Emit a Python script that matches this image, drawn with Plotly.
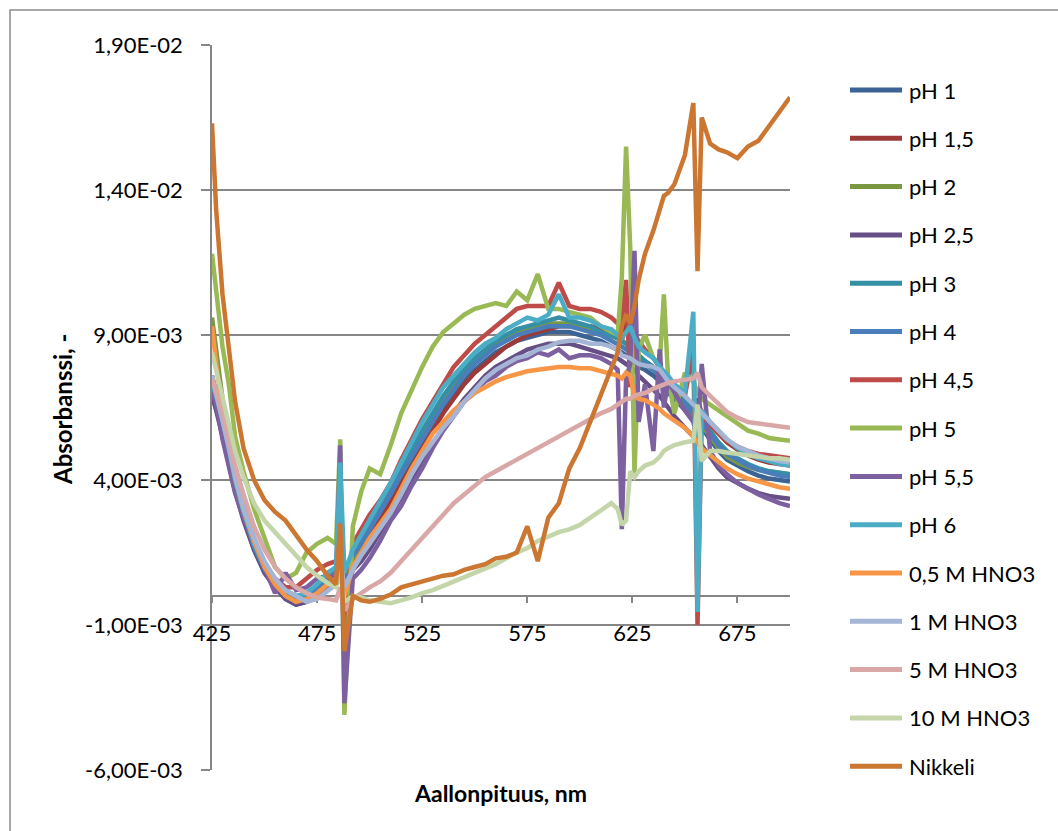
import plotly.graph_objects as go

# Wavelength grid (nm)
wavelength = [425, 427, 430, 433, 436, 440, 445, 450, 455, 460,
              465, 470, 475, 480, 484, 486, 488, 492, 496, 500,
              505, 510, 515, 520, 525, 530, 535, 540, 545, 550,
              555, 560, 565, 570, 575, 580, 585, 590, 595, 600,
              605, 610, 615, 618, 620, 622, 624, 626, 628, 631,
              635, 638, 640, 642, 645, 650, 654, 656, 658, 662,
              666, 670, 675, 680, 685, 690, 695, 700]

# Absorbance values in units of 1E-03
ph_1 = [7.2, 6.7, 5.9, 4.9, 3.8, 2.7, 1.6, 0.8, 0.3, -0.1,
        -0.3, -0.2, 0.1, 0.5, 0.8, 1.8, 0.2, 1.2, 1.6, 2.1,
        2.7, 3.3, 4.0, 4.6, 5.2, 5.8, 6.4, 6.9, 7.4, 7.8,
        8.1, 8.4, 8.6, 8.8, 8.9, 9.0, 9.1, 9.1, 9.1, 9.0,
        8.9, 8.8, 8.6, 8.5, 8.4, 8.3, 8.2, 8.1, 7.9, 7.8,
        7.6, 7.4, 7.2, 7.0, 6.8, 6.4, 6.1, 6.1, 5.8, 5.4,
        5.0, 4.7, 4.5, 4.3, 4.15, 4.05, 4.0, 3.95]
ph_1_5 = [7.6, 7.0, 6.2, 5.2, 4.1, 3.0, 1.9, 1.0, 0.4, 0.0,
          -0.2, -0.1, 0.2, 0.5, 0.7, 1.6, -0.2, 1.0, 1.5, 2.0,
          2.6, 3.2, 3.9, 4.5, 5.1, 5.7, 6.3, 6.8, 7.3, 7.7,
          8.0, 8.3, 8.6, 8.8, 9.0, 9.1, 9.2, 9.3, 9.3, 9.3,
          9.3, 9.2, 9.0, 8.9, 8.8, 9.6, 8.5, 8.5, 8.3, 8.1,
          7.9, 7.7, 7.5, 7.3, 7.1, 6.8, 6.6, 6.8, 6.3, 5.9,
          5.6, 5.3, 5.05, 4.85, 4.7, 4.6, 4.55, 4.5]
ph_2 = [9.6, 8.4, 6.8, 5.5, 4.3, 3.1, 2.0, 1.1, 0.5, 0.1,
        -0.1, 0.0, 0.3, 0.6, 0.8, 2.2, 0.1, 1.3, 1.8, 2.3,
        2.9, 3.5, 4.2, 4.9, 5.5, 6.1, 6.7, 7.2, 7.7, 8.1,
        8.4, 8.7, 8.9, 9.1, 9.2, 9.3, 9.4, 9.4, 9.4, 9.3,
        9.2, 9.1, 9.0, 8.9, 8.8, 8.7, 8.5, 8.4, 8.2, 8.0,
        7.8, 7.6, 7.4, 7.2, 6.9, 6.5, 6.2, 6.4, 5.9, 5.5,
        5.1, 4.8, 4.6, 4.45, 4.35, 4.3, 4.25, 4.2]
ph_2_5 = [6.9, 6.4, 5.5, 4.6, 3.6, 2.6, 1.6, 0.8, 0.3, -0.1,
          -0.3, -0.2, 0.0, 0.3, 0.5, 1.5, 0.0, 0.9, 1.2, 1.6,
          2.2, 2.8, 3.4, 4.0, 4.6, 5.2, 5.8, 6.3, 6.8, 7.2,
          7.6, 7.9, 8.1, 8.3, 8.5, 8.6, 8.7, 8.7, 8.7, 8.6,
          8.5, 8.4, 8.3, 8.2, 8.1, 8.0, 7.9, 7.8, 7.6, 7.4,
          7.1, 6.9, 6.7, 6.5, 6.2, 5.8, 5.5, 5.6, 5.2, 4.8,
          4.4, 4.1, 3.9, 3.7, 3.55, 3.45, 3.4, 3.35]
ph_3 = [7.4, 6.9, 6.1, 5.1, 4.0, 2.9, 1.8, 1.0, 0.45, 0.05,
        -0.15, -0.05, 0.25, 0.65, 0.9, 2.6, 0.4, 1.5, 1.9, 2.4,
        3.0, 3.7, 4.4, 5.0, 5.7, 6.3, 6.9, 7.4, 7.8, 8.2,
        8.5, 8.8, 9.0, 9.2, 9.3, 9.4, 9.5, 9.6, 9.5, 9.4,
        9.3, 9.1, 9.0, 8.9, 8.8, 8.7, 8.6, 8.5, 8.3, 8.1,
        7.9, 7.7, 7.5, 7.3, 7.1, 6.7, 6.4, 6.6, 6.1, 5.7,
        5.3, 5.0, 4.75, 4.55, 4.4, 4.3, 4.25, 4.2]
ph_4 = [7.3, 6.8, 6.0, 5.0, 3.9, 2.8, 1.7, 0.9, 0.4, 0.0,
        -0.2, -0.1, 0.2, 0.6, 0.9, 2.0, 0.3, 1.4, 1.8, 2.3,
        2.9, 3.5, 4.2, 4.8, 5.4, 6.0, 6.6, 7.1, 7.6, 8.0,
        8.3, 8.6, 8.8, 9.0, 9.1, 9.2, 9.3, 9.3, 9.3, 9.2,
        9.1, 9.0, 8.8, 8.7, 8.6, 8.5, 8.4, 8.3, 8.1, 8.0,
        7.8, 7.6, 7.4, 7.2, 7.0, 6.6, 6.3, 6.3, 6.0, 5.6,
        5.2, 4.9, 4.7, 4.5, 4.35, 4.25, 4.15, 4.1]
ph_4_5 = [7.5, 7.0, 6.2, 5.2, 4.1, 3.0, 1.9, 1.1, 0.6, 0.3,
          0.3, 0.6, 0.9, 1.1, 1.2, 2.5, -1.0, 1.8, 2.3, 2.8,
          3.3, 3.9, 4.7, 5.4, 6.1, 6.7, 7.3, 7.9, 8.3, 8.7,
          9.0, 9.3, 9.6, 9.9, 10.0, 10.0, 10.0, 10.8, 10.0, 9.9,
          9.9, 9.8, 9.6, 9.4, 9.5, 10.9, 7.2, 9.0, 8.8, 8.5,
          8.2, 7.9, 7.7, 7.5, 7.2, 6.9, 8.5, -1.0, 6.2, 5.9,
          5.6, 5.35, 5.15, 5.0, 4.9, 4.85, 4.8, 4.75]
ph_5 = [11.8, 10.6, 8.6, 7.3, 5.5, 4.3, 3.0, 2.0, 1.0, 0.6,
        0.8, 1.5, 1.8, 2.0, 1.8, 5.4, -4.1, 2.4, 3.6, 4.4,
        4.2, 5.2, 6.3, 7.1, 7.9, 8.6, 9.1, 9.4, 9.7, 9.9,
        10.0, 10.1, 10.0, 10.5, 10.2, 11.1, 9.9, 9.9, 9.8, 9.7,
        9.6, 9.3, 9.1, 9.0, 11.0, 15.5, 12.0, 4.2, 8.5, 9.0,
        8.2, 8.0, 10.4, 7.5, 6.3, 7.7, 7.4, 7.0, 6.8, 6.6,
        6.4, 6.2, 5.95, 5.7, 5.6, 5.45, 5.4, 5.35]
ph_5_5 = [7.1, 6.6, 5.4, 4.5, 3.55, 2.7, 1.8, 0.9, 0.1, 0.8,
          0.2, 0.3, 0.6, 0.7, 0.6, 5.2, -3.7, 0.6, 0.9, 1.3,
          1.9, 2.6, 3.1, 3.8, 4.4, 5.1, 5.7, 6.2, 6.7, 7.1,
          7.4, 7.6, 7.9, 8.1, 8.2, 8.4, 8.3, 8.5, 8.2, 8.3,
          8.3, 8.2, 8.0, 7.8, 2.3, 7.5, 8.0, 11.9, 6.0, 7.3,
          5.0, 8.5, 6.5, 7.4, 7.0, 6.4, 6.0, 5.4, 8.0, 5.0,
          4.5, 4.2, 3.9, 3.7, 3.5, 3.35, 3.2, 3.1]
ph_6 = [7.4, 6.9, 6.1, 5.1, 4.0, 2.9, 1.8, 1.0, 0.5, 0.2,
        0.0, 0.1, 0.4, 0.8, 1.0, 4.6, 0.8, 1.6, 2.1, 2.6,
        3.2, 3.9, 4.6, 5.3, 6.0, 6.6, 7.2, 7.6, 8.0, 8.4,
        8.7, 8.9, 9.2, 9.4, 9.6, 9.5, 9.7, 10.4, 9.6, 9.6,
        9.5, 9.3, 9.2, 9.0, 8.9, 9.1, 9.3, 8.9, 8.6, 8.4,
        8.2, 7.9, 7.75, 7.6, 7.3, 7.0, 9.8, -0.55, 6.4, 6.0,
        5.7, 5.4, 5.1, 4.9, 4.75, 4.65, 4.55, 4.5]
hno3_0_5 = [9.3, 8.0, 6.4, 5.2, 4.1, 3.0, 1.9, 1.0, 0.4, 0.0,
            -0.2, -0.1, 0.1, 0.4, 0.6, 1.5, 0.0, 1.0, 1.5, 2.0,
            2.5, 3.0, 3.7, 4.4, 5.0, 5.6, 6.0, 6.4, 6.7, 7.0,
            7.2, 7.4, 7.55, 7.65, 7.75, 7.8, 7.85, 7.9, 7.9, 7.85,
            7.85, 7.75, 7.65, 7.6, 7.5, 7.7, 7.6, 6.9, 6.8, 6.75,
            6.6, 6.45, 6.3, 6.2, 6.05, 5.8, 5.5, 5.3, 5.1, 4.85,
            4.6, 4.4, 4.2, 4.05, 3.95, 3.85, 3.75, 3.7]
hno3_1 = [7.6, 7.0, 6.1, 5.1, 4.1, 3.0, 2.0, 1.2, 0.6, 0.2,
          0.0, -0.2, -0.1, 0.2, 0.4, 1.2, 0.3, 0.9, 1.4, 1.8,
          2.3, 2.86, 3.5, 4.2, 4.8, 5.3, 5.8, 6.2, 6.7, 7.1,
          7.5, 7.8, 8.0, 8.2, 8.3, 8.5, 8.6, 8.75, 8.8, 8.8,
          8.7, 8.7, 8.6, 8.5, 8.3, 8.25, 8.2, 8.1, 8.0, 7.95,
          7.9, 7.8, 7.6, 7.4, 7.2, 6.9, 6.6, 6.5, 6.3, 6.0,
          5.7, 5.4, 5.15, 5.0, 4.85, 4.75, 4.65, 4.6]
hno3_5 = [7.5, 7.0, 6.3, 5.4, 4.5, 3.5, 2.4, 1.6, 1.0, 0.6,
          0.3, 0.1, -0.05, -0.1, -0.15, 0.3, -0.5, -0.1, 0.1, 0.3,
          0.5, 0.8, 1.2, 1.6, 2.0, 2.4, 2.8, 3.2, 3.5, 3.8,
          4.1, 4.3, 4.5, 4.7, 4.9, 5.1, 5.3, 5.5, 5.7, 5.9,
          6.1, 6.3, 6.45, 6.6, 6.7, 6.8, 6.8, 6.9, 6.95, 7.0,
          7.15, 7.25, 7.3, 7.35, 7.4, 7.45, 7.5, 7.7, 7.2, 6.9,
          6.6, 6.35, 6.15, 6.0, 5.95, 5.9, 5.85, 5.8]
hno3_10 = [8.4, 7.8, 6.9, 5.9, 5.0, 4.1, 3.2, 2.6, 2.2, 1.8,
           1.4, 1.0, 0.7, 0.45, 0.3, 0.8, -0.2, 0.0, -0.05, -0.15,
           -0.2, -0.25, -0.15, -0.05, 0.1, 0.2, 0.35, 0.5, 0.65, 0.8,
           0.95, 1.1, 1.3, 1.5, 1.65, 1.9, 2.05, 2.2, 2.3, 2.45,
           2.7, 2.95, 3.2, 3.0, 2.45, 2.6, 4.3, 4.1, 4.3, 4.5,
           4.6, 4.8, 5.0, 5.1, 5.2, 5.3, 5.35, 6.6, 4.65, 5.0,
           5.0, 4.95, 4.9, 4.85, 4.8, 4.75, 4.75, 4.7]
nikkeli = [16.3, 13.3, 10.4, 8.4, 6.7, 5.1, 4.0, 3.3, 2.9, 2.6,
           2.1, 1.6, 1.2, 0.7, 0.4, 2.5, -1.9, 0.0, -0.15, -0.2,
           -0.1, 0.05, 0.3, 0.4, 0.5, 0.6, 0.7, 0.75, 0.9, 1.0,
           1.1, 1.3, 1.35, 1.5, 2.4, 1.2, 2.7, 3.2, 4.4, 5.1,
           6.0, 7.0, 7.8, 8.4, 9.3, 9.7, 9.4, 10.0, 10.9, 11.8,
           12.6, 13.4, 13.8, 13.9, 14.2, 15.2, 17.0, 11.2, 16.5, 15.6,
           15.4, 15.3, 15.1, 15.5, 15.7, 16.2, 16.7, 17.2]

series_names = ["pH 1", "pH 1,5", "pH 2", "pH 2,5", "pH 3", "pH 4", "pH 4,5",
                "pH 5", "pH 5,5", "pH 6", "0,5 M HNO3", "1 M HNO3", "5 M HNO3",
                "10 M HNO3", "Nikkeli"]
series_values = [ph_1, ph_1_5, ph_2, ph_2_5, ph_3, ph_4, ph_4_5, ph_5, ph_5_5,
                 ph_6, hno3_0_5, hno3_1, hno3_5, hno3_10, nikkeli]
series_colors = ["#3B6394", "#9C3A38", "#7A9842", "#654F85", "#3590A5",
                 "#4A7EBB", "#BE4B48", "#98B954", "#7D60A0", "#4BACC6",
                 "#F79646", "#A5B5D6", "#D8A7A6", "#C4D6A9", "#CB7631"]

y_tickvals = [-6, -1, 4, 9, 14, 19]
y_ticktext = ["-6,00E-03", "-1,00E-03", "4,00E-03", "9,00E-03", "1,40E-02", "1,90E-02"]
x_tickvals = [425, 475, 525, 575, 625, 675]

FONT = "Lato, 'Liberation Sans', sans-serif"
GRID = "#868686"

fig = go.Figure()
for name, vals, col in zip(series_names, series_values, series_colors):
    fig.add_trace(go.Scatter(x=wavelength, y=vals, mode="lines", name=name,
                             line=dict(color=col, width=4.5), showlegend=False))

W, H = 1058, 831
L, R, T, B = 212, 790, 45, 770
pw, ph = R - L, B - T


def px(x):
    return (x - L) / pw


def py(y):
    return (B - y) / ph


fig.update_layout(
    width=W, height=H,
    margin=dict(l=L, r=W - R, t=T, b=H - B, pad=0),
    paper_bgcolor="white", plot_bgcolor="white",
    font=dict(family=FONT, size=22, color="black"),
    xaxis=dict(range=[425, 700], tickvals=x_tickvals, ticktext=[str(v) for v in x_tickvals],
               anchor="free", position=py(596), showline=True, linecolor=GRID, linewidth=1.5,
               ticks="outside", ticklen=6, tickcolor=GRID, tickwidth=1.5,
               showgrid=False, zeroline=False, layer="below traces",
               ticklabelstandoff=12, tickfont=dict(size=22, family=FONT, color="black")),
    yaxis=dict(range=[-6, 19], tickvals=y_tickvals, ticktext=y_ticktext,
               showline=True, linecolor=GRID, linewidth=1.5,
               ticks="outside", ticklen=9, tickcolor=GRID, tickwidth=1.5,
               showgrid=True, gridcolor=GRID, gridwidth=1.5, zeroline=False,
               layer="below traces", ticklabelstandoff=14,
               tickfont=dict(size=22, family=FONT, color="black")),
)

shapes = []
annotations = []
# outer chart border
shapes.append(dict(type="rect", xref="paper", yref="paper",
                   x0=px(10), x1=px(1070), y0=py(845), y1=py(10),
                   line=dict(color="#8C8C8C", width=1.5), fillcolor="rgba(0,0,0,0)", layer="below"))

# axis titles
annotations.append(dict(text="<b>Absorbanssi, -</b>", xref="paper", yref="paper",
                        x=px(62), y=py(410), textangle=-90, showarrow=False,
                        xanchor="center", yanchor="middle",
                        font=dict(size=24, family=FONT, color="black")))
annotations.append(dict(text="<b>Aallonpituus, nm</b>", xref="paper", yref="paper",
                        x=px(500), y=py(793), showarrow=False,
                        xanchor="center", yanchor="middle",
                        font=dict(size=23, family=FONT, color="black")))

# legend
for i, (name, col) in enumerate(zip(series_names, series_colors)):
    yy = 90 + i * 48.3
    shapes.append(dict(type="line", xref="paper", yref="paper",
                       x0=px(850), x1=px(902), y0=py(yy), y1=py(yy),
                       line=dict(color=col, width=5)))
    annotations.append(dict(text=name, xref="paper", yref="paper",
                            x=px(907), y=py(yy), showarrow=False,
                            xanchor="left", yanchor="middle",
                            font=dict(size=22, family=FONT, color="black")))

fig.update_layout(shapes=shapes, annotations=annotations)
fig.write_html("out.html")
